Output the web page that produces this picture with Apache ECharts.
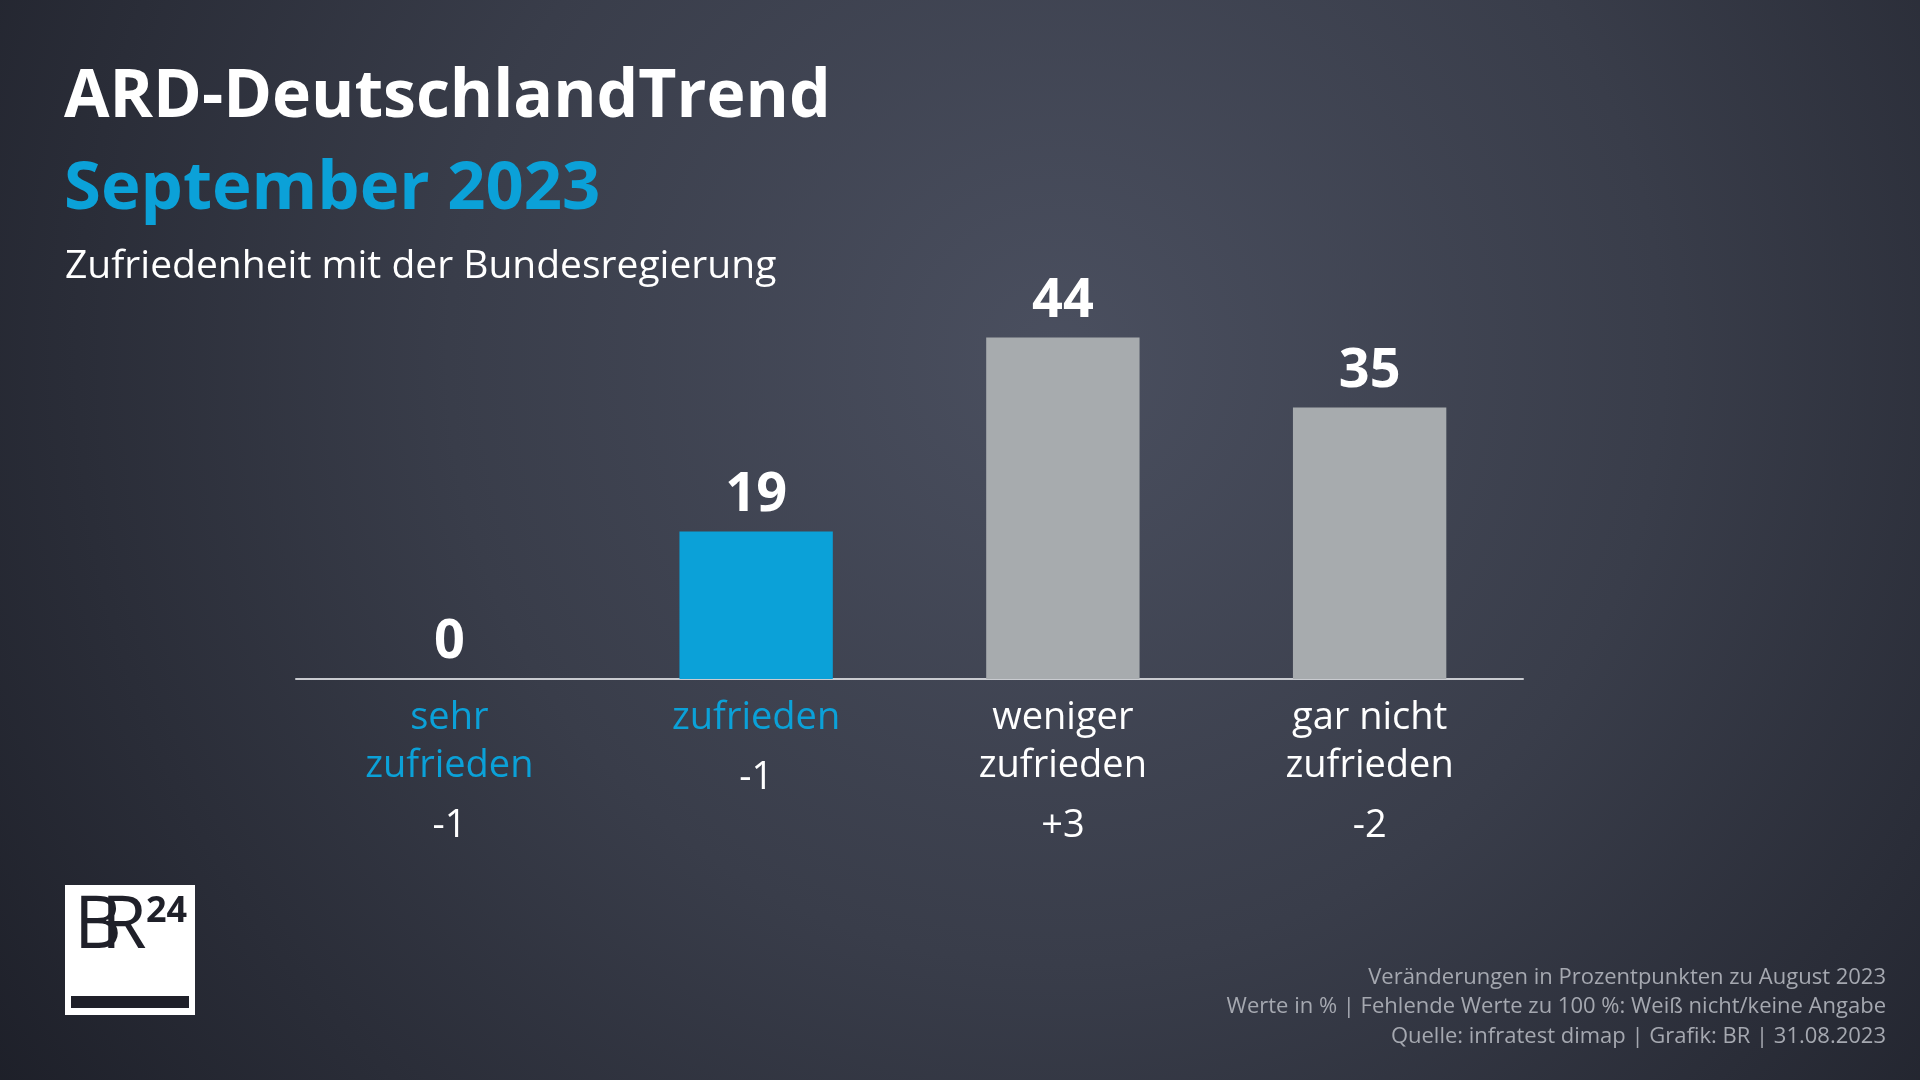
<!DOCTYPE html>
<html>
<head>
<meta charset="utf-8">
<script src="https://cdn.jsdelivr.net/npm/echarts@6/dist/echarts.min.js"></script>
<style>
  html, body { margin: 0; padding: 0; background: #2b2e39; }
  #chart { width: 1920px; height: 1080px; }
</style>
</head>
<body>
<div id="chart"></div>
<script>
// ---- data ----
const categories = ['sehr\nzufrieden', 'zufrieden', 'weniger\nzufrieden', 'gar nicht\nzufrieden'];
const values = [0, 19, 44, 35];
const changes = ['-1', '-1', '+3', '-2'];
const title = 'ARD-DeutschlandTrend';
const subtitleMonth = 'September 2023';
const subtitle = 'Zufriedenheit mit der Bundesregierung';
const footnote = [
  'Veränderungen in Prozentpunkten zu August 2023',
  'Werte in % | Fehlende Werte zu 100 %: Weiß nicht/keine Angabe',
  'Quelle: infratest dimap | Grafik: BR | 31.08.2023'
];

// ---- styles ----
const BLUE = '#0ba1d8';
const GREY = '#a7abae';
const FONT = "'Open Sans', 'Noto Sans', sans-serif";
const isBlue = i => i < 2;

const chart = echarts.init(document.getElementById('chart'), null, { renderer: 'canvas' });

chart.setOption({
  backgroundColor: {
    type: 'radial', x: 0.55, y: 0.33, r: 1.25,
    colorStops: [
      { offset: 0, color: '#4a4f5f' },
      { offset: 0.45, color: '#393d4a' },
      { offset: 1, color: '#1b1d26' }
    ]
  },
  animation: false,
  grid: { left: 296, right: 397, top: 291, bottom: 401, containLabel: false },
  xAxis: {
    type: 'category',
    data: categories,
    axisLine: { show: true, lineStyle: { color: '#c9cbd0', width: 2 } },
    axisTick: { show: false },
    axisLabel: {
      margin: 15,
      interval: 0,
      formatter: function (val, idx) {
        const st = isBlue(idx) ? 'b' : 'w';
        const lines = val.split('\n').map(l => '{' + st + '|' + l + '}');
        return lines.join('\n') + '\n{c|' + changes[idx] + '}';
      },
      rich: {
        b: { color: BLUE, fontSize: 38, lineHeight: 48, fontFamily: FONT, align: 'center' },
        w: { color: '#ffffff', fontSize: 38, lineHeight: 48, fontFamily: FONT, align: 'center' },
        c: { color: '#ffffff', fontSize: 38, lineHeight: 72, fontFamily: FONT, align: 'center' }
      }
    }
  },
  yAxis: {
    type: 'value', min: 0, max: 50, show: false,
    splitLine: { show: false }
  },
  series: [{
    type: 'bar',
    barWidth: '50%',
    data: values.map((v, i) => ({
      value: v,
      itemStyle: { color: isBlue(i) ? BLUE : GREY }
    })),
    label: {
      show: true,
      position: 'top',
      distance: 9,
      color: '#ffffff',
      fontSize: 54,
      fontWeight: 'bold',
      fontFamily: FONT
    }
  }],
  graphic: [
    { type: 'text', x: 64, y: 98, style: { text: title, fill: '#ffffff', font: "bold 66px " + FONT, textVerticalAlign: 'middle' } },
    { type: 'text', x: 64, y: 190, style: { text: subtitleMonth, fill: BLUE, font: "bold 67px " + FONT, textVerticalAlign: 'middle' } },
    { type: 'text', x: 65, y: 267, style: { text: subtitle, fill: '#ffffff', font: "39px " + FONT, textVerticalAlign: 'middle' } },
    // logo
    { type: 'rect', shape: { x: 65, y: 885, width: 130, height: 130 }, style: { fill: '#ffffff' } },
    { type: 'rect', shape: { x: 71, y: 996, width: 118, height: 12 }, style: { fill: '#1f2029' } },
    { type: 'text', x: 74, y: 927, style: { text: 'B', fill: '#1f2029', font: "74px " + FONT, textVerticalAlign: 'middle' } },
    { type: 'text', x: 101, y: 927, style: { text: 'R', fill: '#1f2029', font: "74px " + FONT, textVerticalAlign: 'middle' } },
    { type: 'text', x: 146, y: 912, style: { text: '24', fill: '#1f2029', font: "bold 36px " + FONT, textVerticalAlign: 'middle' } },
    // footnote
    { type: 'text', x: 1886, y: 1007, style: { text: footnote.join('\n'), fill: '#a5a8b0', font: "22px " + FONT, textAlign: 'right', textVerticalAlign: 'middle', lineHeight: 29.5 } }
  ]
});
</script>
</body>
</html>
